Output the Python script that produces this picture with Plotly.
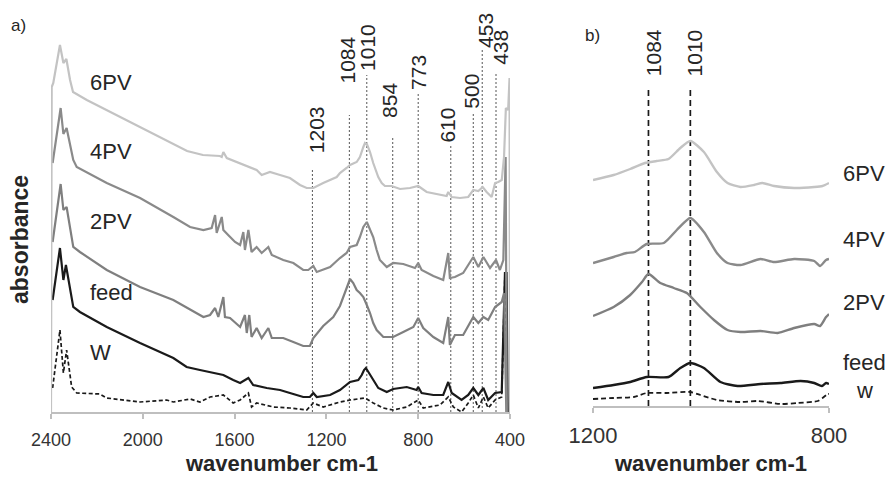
import plotly.graph_objects as go

FONT = "Liberation Sans, Arial, sans-serif"
TXT = "#262626"

# ---------------- panel a: full spectra (wavenumber cm-1, absorbance a.u.) ----------------
x_6pv_a = [2400, 2397, 2390, 2361, 2346, 2333, 2317, 2304, 2244, 2099, 1956, 1807, 1738, 1664, 1656, 1649,
           1634, 1576, 1504, 1482, 1446, 1402, 1359, 1315, 1286, 1257, 1214, 1155, 1141, 1112, 1097, 1068,
           1054, 1039, 1032, 1022, 1010, 996, 974, 959, 945, 916, 879, 836, 800, 763, 705, 676, 669, 654,
           618, 582, 560, 538, 519, 502, 480, 465, 451, 436, 426, 418, 408, 402, 400]
y_6pv_a = [0, 3.25, 3.29, 3.67, 3.49, 3.53, 3.32, 3.20, 3.12, 2.95, 2.79, 2.61, 2.57, 2.56, 2.55, 2.60,
           2.54, 2.49, 2.42, 2.37, 2.40, 2.37, 2.34, 2.27, 2.24, 2.24, 2.29, 2.35, 2.39, 2.44, 2.47, 2.50,
           2.55, 2.65, 2.69, 2.67, 2.60, 2.49, 2.35, 2.29, 2.26, 2.26, 2.23, 2.24, 2.26, 2.20, 2.17, 2.16,
           2.20, 2.15, 2.14, 2.15, 2.22, 2.21, 2.25, 2.20, 2.15, 2.29, 2.30, 2.32, 2.55, 3.04, 3.02, 3.34, 0]

x_4pv_a = [2393, 2358, 2346, 2332, 2303, 2288, 2157, 2012, 1867, 1794, 1736, 1700, 1685, 1678, 1656, 1649,
           1628, 1598, 1576, 1562, 1555, 1540, 1526, 1504, 1482, 1453, 1438, 1388, 1344, 1301, 1279, 1257,
           1242, 1184, 1141, 1112, 1097, 1068, 1054, 1039, 1024, 1010, 996, 981, 967, 937, 909, 865, 814,
           800, 785, 734, 691, 669, 662, 640, 604, 560, 538, 516, 487, 461, 444, 429, 419, 414]
y_4pv_a = [2.49, 3.04, 2.78, 2.84, 2.52, 2.45, 2.29, 2.14, 1.95, 1.85, 1.82, 1.84, 1.97, 1.79, 1.95, 1.82,
           1.77, 1.70, 1.67, 1.80, 1.62, 1.82, 1.60, 1.65, 1.59, 1.65, 1.57, 1.52, 1.49, 1.42, 1.42, 1.46,
           1.40, 1.45, 1.54, 1.59, 1.65, 1.67, 1.75, 1.85, 1.90, 1.82, 1.75, 1.62, 1.52, 1.45, 1.49, 1.48,
           1.44, 1.49, 1.42, 1.36, 1.32, 1.59, 1.34, 1.35, 1.39, 1.55, 1.45, 1.55, 1.44, 1.52, 1.42, 1.52,
           2.55, 0]

x_2pv_a = [2393, 2358, 2346, 2332, 2303, 2274, 2157, 2012, 1867, 1751, 1736, 1707, 1685, 1671, 1649, 1642,
           1620, 1576, 1555, 1547, 1536, 1526, 1504, 1482, 1453, 1438, 1388, 1344, 1301, 1272, 1257, 1214,
           1170, 1141, 1119, 1112, 1097, 1083, 1068, 1054, 1039, 1024, 1010, 996, 981, 952, 909, 865, 821,
           800, 778, 734, 691, 669, 662, 640, 604, 560, 538, 516, 495, 465, 436, 426, 416]
y_2pv_a = [1.70, 2.28, 2.02, 2.05, 1.65, 1.60, 1.42, 1.25, 1.12, 0.97, 0.95, 0.97, 1.04, 0.95, 1.15, 0.95,
           0.94, 0.85, 0.97, 0.79, 0.97, 0.75, 0.84, 0.74, 0.84, 0.74, 0.74, 0.70, 0.66, 0.66, 0.74, 0.86,
           0.95, 1.06, 1.19, 1.25, 1.33, 1.29, 1.22, 1.19, 1.15, 1.07, 0.99, 0.89, 0.82, 0.75, 0.75, 0.80,
           0.85, 0.94, 0.84, 0.75, 0.69, 0.95, 0.67, 0.77, 0.77, 0.95, 0.89, 0.95, 0.92, 1.05, 1.10, 1.19, 0]

x_feed_a = [2393, 2361, 2346, 2335, 2303, 2274, 2157, 2012, 1867, 1809, 1751, 1707, 1649, 1606, 1576, 1540,
            1519, 1460, 1402, 1359, 1301, 1272, 1257, 1242, 1184, 1141, 1126, 1097, 1061, 1046, 1036, 1028,
            1017, 1003, 988, 974, 937, 909, 850, 807, 800, 785, 734, 691, 669, 654, 611, 582, 560, 538, 516,
            495, 465, 436, 422, 415, 410]
y_feed_a = [1.12, 1.64, 1.32, 1.47, 1.05, 1.00, 0.85, 0.69, 0.54, 0.45, 0.42, 0.40, 0.37, 0.32, 0.29, 0.34,
            0.27, 0.24, 0.22, 0.19, 0.15, 0.15, 0.19, 0.15, 0.17, 0.22, 0.25, 0.30, 0.32, 0.37, 0.42, 0.44,
            0.40, 0.35, 0.29, 0.24, 0.20, 0.23, 0.25, 0.22, 0.25, 0.19, 0.17, 0.17, 0.30, 0.19, 0.12, 0.17,
            0.24, 0.17, 0.24, 0.12, 0.19, 0.20, 1.39, 1.39, 0]

x_w_a = [2393, 2361, 2346, 2332, 2310, 2288, 2187, 2157, 2012, 1896, 1867, 1794, 1751, 1707, 1649, 1606,
         1576, 1540, 1526, 1504, 1431, 1359, 1286, 1257, 1214, 1141, 1097, 1032, 996, 952, 909, 850, 800,
         778, 705, 669, 647, 611, 582, 560, 538, 516, 495, 465, 436, 422, 412]
y_w_a = [0.24, 0.82, 0.39, 0.62, 0.25, 0.19, 0.18, 0.14, 0.10, 0.12, 0.10, 0.13, 0.10, 0.15, 0.17, 0.09,
         0.12, 0.19, 0.05, 0.09, 0.05, 0.04, 0.02, 0.09, 0.05, 0.10, 0.12, 0.14, 0.09, 0.04, 0.02, 0.05,
         0.12, 0.04, 0.07, 0.15, 0.05, 0.00, 0.09, 0.17, 0.04, 0.15, 0.04, 0.12, 0.15, 1.39, 0]

# peak markers, panel a
peak_labels = ["1203", "1084", "1010", "854", "773", "610", "500", "453", "438"]
peak_line_x = [1261, 1100, 1024, 911, 800, 658, 560, 521, 461]
peak_line_top = [2.43, 2.97, 3.37, 2.75, 3.18, 2.67, 2.99, 3.64, 3.40]
peak_label_x = [1240, 1108, 1021, 923, 797, 672, 567, 505, 440]
peak_label_y = [2.82, 3.52, 3.645, 3.12, 3.40, 2.87, 3.21, 3.82, 3.65]

series_names_a = ["6PV", "4PV", "2PV", "feed", "W"]
series_label_y_a = [3.29, 2.60, 1.90, 1.20, 0.60]
series_label_x_a = 2239
ticks_a = [2400, 2000, 1600, 1200, 800, 400]

# ---------------- panel b: zoom 1200-800 cm-1 ----------------
x_6pv_b = [1200, 1165, 1137, 1112, 1092, 1072, 1052, 1035, 1012, 990, 972, 950, 927, 913, 893, 859, 825, 811, 800]
y_6pv_b = [2.26, 2.31, 2.37, 2.43, 2.45, 2.47, 2.58, 2.65, 2.54, 2.34, 2.23, 2.19, 2.21, 2.23, 2.20, 2.18, 2.19, 2.20, 2.23]
x_4pv_b = [1200, 1165, 1143, 1129, 1109, 1080, 1058, 1035, 1012, 990, 972, 950, 916, 893, 859, 825, 815, 805, 800]
y_4pv_b = [1.43, 1.49, 1.53, 1.54, 1.62, 1.63, 1.76, 1.88, 1.74, 1.53, 1.43, 1.41, 1.47, 1.44, 1.47, 1.45, 1.40, 1.46, 1.47]
x_2pv_b = [1200, 1165, 1137, 1117, 1106, 1086, 1063, 1041, 1018, 995, 972, 950, 916, 887, 859, 825, 815, 805, 800]
y_2pv_b = [0.90, 0.99, 1.11, 1.24, 1.32, 1.23, 1.18, 1.13, 0.99, 0.86, 0.76, 0.74, 0.75, 0.73, 0.78, 0.82, 0.80, 0.89, 0.92]
x_feed_b = [1200, 1165, 1137, 1109, 1072, 1052, 1035, 1012, 984, 955, 916, 882, 848, 825, 812, 805, 800]
y_feed_b = [0.18, 0.21, 0.24, 0.29, 0.29, 0.38, 0.43, 0.38, 0.24, 0.20, 0.22, 0.23, 0.25, 0.23, 0.20, 0.23, 0.22]
x_w_b = [1200, 1165, 1131, 1109, 1075, 1035, 1018, 990, 950, 921, 882, 853, 819, 811, 802, 800]
y_w_b = [0.07, 0.08, 0.09, 0.13, 0.13, 0.14, 0.11, 0.06, 0.04, 0.05, 0.02, 0.03, 0.05, 0.08, 0.12, 0.12]

b_labels = ["1084", "1010"]
b_line_x = [1106, 1035]
b_line_top = 3.18
b_label_x = [1098, 1028]
b_label_y = 3.53
series_names_b = ["6PV", "4PV", "2PV", "feed", "w"]
series_label_y_b = [2.33, 1.67, 1.04, 0.44, 0.16]
ticks_b = [1200, 800]

COL = {"6PV": "#c3c3c3", "4PV": "#8a8a8a", "2PV": "#7f7f7f", "feed": "#1a1a1a", "W": "#1a1a1a"}

W_PX, H_PX = 895, 477


def px_x(p):
    return p / W_PX


def px_y(p):
    return 1 - p / H_PX


fig = go.Figure()

# dotted peak lines (panel a)
lx, ly = [], []
for px, top in zip(peak_line_x, peak_line_top):
    lx += [px, px, None]
    ly += [0, top, None]
fig.add_trace(go.Scatter(x=lx, y=ly, mode="lines", xaxis="x", yaxis="y",
                         line=dict(color="#555555", width=1, dash="2px,2px"), hoverinfo="skip"))

data_a = [("W", x_w_a, y_w_a), ("feed", x_feed_a, y_feed_a), ("2PV", x_2pv_a, y_2pv_a),
          ("4PV", x_4pv_a, y_4pv_a), ("6PV", x_6pv_a, y_6pv_a)]
for name, xs, ys in data_a:
    dash = "4px,2.5px" if name == "W" else "solid"
    width = 1.7 if name == "W" else 2.2
    fig.add_trace(go.Scatter(x=xs, y=ys, mode="lines", name=name, xaxis="x", yaxis="y",
                             line=dict(color=COL[name], width=width, dash=dash)))

# dashed lines (panel b)
bx, by = [], []
for px in b_line_x:
    bx += [px, px, None]
    by += [0, b_line_top, None]
fig.add_trace(go.Scatter(x=bx, y=by, mode="lines", xaxis="x2", yaxis="y2",
                         line=dict(color="#1a1a1a", width=1.7, dash="6px,4px"), hoverinfo="skip"))

data_b = [("W", x_w_b, y_w_b), ("feed", x_feed_b, y_feed_b), ("2PV", x_2pv_b, y_2pv_b),
          ("4PV", x_4pv_b, y_4pv_b), ("6PV", x_6pv_b, y_6pv_b)]
for name, xs, ys in data_b:
    dash = "5px,3px" if name == "W" else "solid"
    width = 1.8 if name == "W" else 2.4
    fig.add_trace(go.Scatter(x=xs, y=ys, mode="lines", name=name, xaxis="x2", yaxis="y2",
                             line=dict(color=COL[name], width=width, dash=dash, shape="spline",
                                       smoothing=0.6)))

ann = []
for lab, lxv, lyv in zip(peak_labels, peak_label_x, peak_label_y):
    ann.append(dict(x=lxv, y=lyv, xref="x", yref="y", text=lab, showarrow=False, textangle=-90,
                    xanchor="center", yanchor="middle", font=dict(family=FONT, size=21, color=TXT)))
for name, yv in zip(series_names_a, series_label_y_a):
    ann.append(dict(x=series_label_x_a, y=yv, xref="x", yref="y", text=name, showarrow=False,
                    xanchor="left", yanchor="middle", font=dict(family=FONT, size=22, color=TXT)))
for lab, lxv in zip(b_labels, b_label_x):
    ann.append(dict(x=lxv, y=b_label_y, xref="x2", yref="y2", text=lab, showarrow=False, textangle=-90,
                    xanchor="center", yanchor="middle", font=dict(family=FONT, size=21, color=TXT)))
for name, yv in zip(series_names_b, series_label_y_b):
    ann.append(dict(x=px_x(864), y=yv, xref="paper", yref="y2", text=name, showarrow=False,
                    xanchor="center", yanchor="middle", font=dict(family=FONT, size=22, color=TXT)))
ann += [
    dict(x=px_x(18), y=px_y(25), xref="paper", yref="paper", text="a)", showarrow=False,
         xanchor="center", yanchor="middle", font=dict(family=FONT, size=17, color=TXT)),
    dict(x=px_x(592), y=px_y(36), xref="paper", yref="paper", text="b)", showarrow=False,
         xanchor="center", yanchor="middle", font=dict(family=FONT, size=17, color=TXT)),
    dict(x=px_x(281), y=px_y(463), xref="paper", yref="paper", text="<b>wavenumber cm-1</b>",
         showarrow=False, xanchor="center", yanchor="middle", font=dict(family=FONT, size=22, color=TXT)),
    dict(x=px_x(710), y=px_y(463), xref="paper", yref="paper", text="<b>wavenumber cm-1</b>",
         showarrow=False, xanchor="center", yanchor="middle", font=dict(family=FONT, size=22, color=TXT)),
    dict(x=px_x(20), y=px_y(240), xref="paper", yref="paper", text="<b>absorbance</b>",
         showarrow=False, textangle=-90, xanchor="center", yanchor="middle",
         font=dict(family=FONT, size=23, color=TXT)),
]

axis_common = dict(showgrid=False, zeroline=False, showline=True, linecolor="#bfbfbf", linewidth=1.5,
                   ticks="outside", ticklen=5, tickcolor="#bfbfbf", tickwidth=1.5, automargin=False)

fig.update_layout(
    template="none",
    width=W_PX, height=H_PX, margin=dict(l=0, r=0, t=0, b=0, pad=0, autoexpand=False),
    paper_bgcolor="white", plot_bgcolor="rgba(0,0,0,0)", showlegend=False,
    font=dict(family=FONT, color=TXT),
    xaxis=dict(domain=[px_x(51), px_x(510)], range=[2400, 400], tickvals=ticks_a,
               tickfont=dict(family=FONT, size=18, color="#333333"), ticklabelstandoff=6,
               anchor="y", **axis_common),
    yaxis=dict(domain=[px_y(412), px_y(8)], range=[0, 4.04], visible=False, anchor="x", automargin=False),
    xaxis2=dict(domain=[px_x(593), px_x(829)], range=[1200, 800], tickvals=ticks_b,
                tickfont=dict(family=FONT, size=22, color="#333333"), ticklabelstandoff=4,
                anchor="y2", **axis_common),
    yaxis2=dict(domain=[px_y(406), px_y(10)], range=[0, 3.96], visible=False, anchor="x2", automargin=False),
    annotations=ann,
)

fig.write_html("out.html", config={"displayModeBar": False},
               post_script="document.body.style.margin='0px';document.body.style.overflow='hidden';")
